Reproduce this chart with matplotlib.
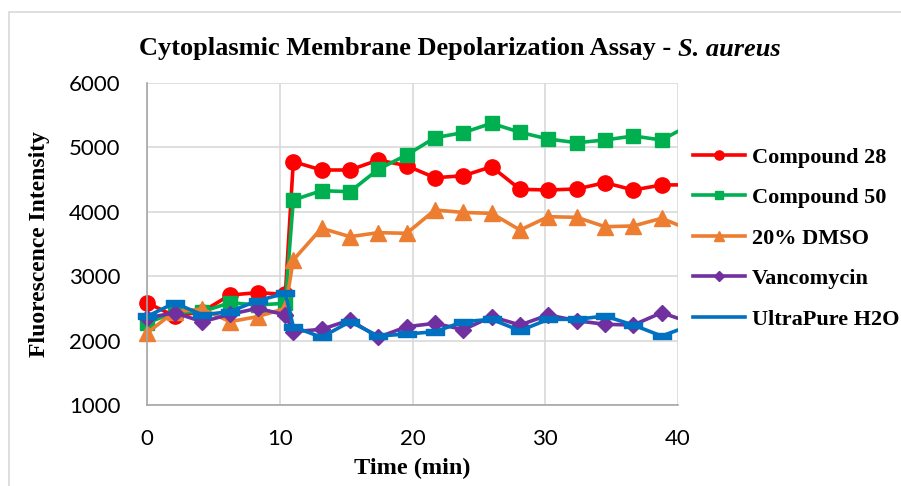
import matplotlib
matplotlib.use("Agg")
import matplotlib.pyplot as plt
from matplotlib.patches import Rectangle
from matplotlib.path import Path

# ---- data ----
time_pre = [0, 2.08, 4.17, 6.25, 8.33, 10.42]
time_post = [11.02, 13.15, 15.29, 17.42, 19.56, 21.69, 23.83, 25.96, 28.10,
             30.23, 32.37, 34.50, 36.63, 38.77, 40.90]
time_min = time_pre + time_post

compound28 = [2588, 2380, 2450, 2708, 2744, 2720,
              4778, 4649, 4649, 4804, 4716, 4529, 4560, 4700, 4349, 4339, 4354, 4452, 4339, 4416, 4420]
compound50 = [2273, 2440, 2450, 2588, 2553, 2580,
              4183, 4328, 4312, 4660, 4882, 5151, 5230, 5374, 5234, 5130, 5073, 5115, 5177, 5115, 5350]
dmso20 = [2118, 2450, 2490, 2294, 2372, 2500,
          3252, 3744, 3614, 3676, 3666, 4028, 3990, 3976, 3717, 3924, 3914, 3769, 3780, 3899, 3720]
vancomycin = [2351, 2433, 2293, 2408, 2501, 2400,
              2138, 2175, 2320, 2051, 2216, 2268, 2170, 2372, 2242, 2398, 2309, 2253, 2242, 2433, 2283]
h2o = [2375, 2584, 2400, 2450, 2620, 2734,
       2216, 2051, 2294, 2071, 2102, 2138, 2294, 2330, 2154, 2330, 2330, 2382, 2242, 2071, 2233]

series_names = ["Compound 28", "Compound 50", "20% DMSO", "Vancomycin", "UltraPure H2O"]
x_ticks = [0, 10, 20, 30, 40]
y_ticks = [1000, 2000, 3000, 4000, 5000, 6000]

# ---- styling ----
W, H = 901, 486
fig = plt.figure(figsize=(W / 100, H / 100), dpi=100)
ax = fig.add_axes([147 / W, 1 - 405 / H, 531 / W, 322 / H])

serif = "Liberation Serif"
tickfont = "Lato"

dash = Path([(-1, -0.38), (1, -0.38), (1, 0.38), (-1, 0.38), (-1, -0.38)],
            [Path.MOVETO, Path.LINETO, Path.LINETO, Path.LINETO, Path.CLOSEPOLY])

styles = [
    dict(color="#FF0000", marker="o", ms=11),
    dict(color="#00B050", marker="s", ms=9.5),
    dict(color="#ED7D31", marker="^", ms=11),
    dict(color="#7030A0", marker="D", ms=8),
    dict(color="#0070C0", marker=dash, ms=13),
]
data = [compound28, compound50, dmso20, vancomycin, h2o]

clip = Rectangle((-0.1, -0.1), 1.1, 1.2, transform=ax.transAxes, visible=False)
ax.add_patch(clip)

for name, ys, st in zip(series_names, data, styles):
    ln, = ax.plot(time_min, ys, color=st["color"], lw=2.6, marker=st["marker"],
                  ms=st["ms"], mec=st["color"], mfc=st["color"], label=name)
    ln.set_clip_path(clip)

ax.set_xlim(0, 40)
ax.set_ylim(1000, 6000)
ax.set_xticks(x_ticks)
ax.set_yticks(y_ticks)
ax.grid(True, color="#D9D9D9", lw=1.2)
ax.set_axisbelow(True)
for s in ["top", "right"]:
    ax.spines[s].set_visible(False)
for s in ["left", "bottom"]:
    ax.spines[s].set_color("#A6A6A6")
    ax.spines[s].set_linewidth(1.2)
ax.tick_params(axis="x", length=0, pad=17, labelsize=16)
ax.tick_params(axis="y", length=0, pad=19, labelsize=16)
for lab in ax.get_xticklabels() + ax.get_yticklabels():
    lab.set_fontfamily(tickfont)

ax.set_xlabel("Time (min)", fontfamily=serif, fontweight="bold", fontsize=17.5)
ax.xaxis.set_label_coords(0.5, -(458 - 405) / 322)
ax.set_ylabel("Fluorescence Intensity", fontfamily=serif, fontweight="bold", fontsize=17)
ax.yaxis.set_label_coords(-(147 - 50) / 531, 0.5)

leg = fig.legend(loc="upper left", bbox_to_anchor=(693 / W, 1 - 147 / H),
                 frameon=False, prop=dict(family=serif, weight="bold", size=16),
                 handlelength=2.35, handletextpad=0.3, labelspacing=0.9,
                 borderaxespad=0, borderpad=0, markerscale=0.6)
leg.legend_handles[4].set_marker("")

# title (bold + bold italic)
fig.canvas.draw()
r = fig.canvas.get_renderer()
tsize = 19
t1 = fig.text(0, 1 - 49 / H, "Cytoplasmic Membrane Depolarization Assay - ", fontfamily=serif,
              fontweight="bold", fontsize=tsize, va="center", ha="left")
t2 = fig.text(0, 1 - 49 / H, "S. aureus", fontfamily=serif, fontweight="bold",
              fontstyle="italic", fontsize=tsize, va="center", ha="left")
w1 = t1.get_window_extent(r).width
w2 = t2.get_window_extent(r).width
x0 = 460 - (w1 + w2) / 2
t1.set_x(x0 / W)
t2.set_x((x0 + w1) / W)

# outer chart border
fig.patches.append(Rectangle((9 / W, -0.2), 1.5, (1 - 12 / H) + 0.2, transform=fig.transFigure,
                             fill=False, ec="#D9D9D9", lw=1.2))

fig.savefig("out.png", dpi=100)
